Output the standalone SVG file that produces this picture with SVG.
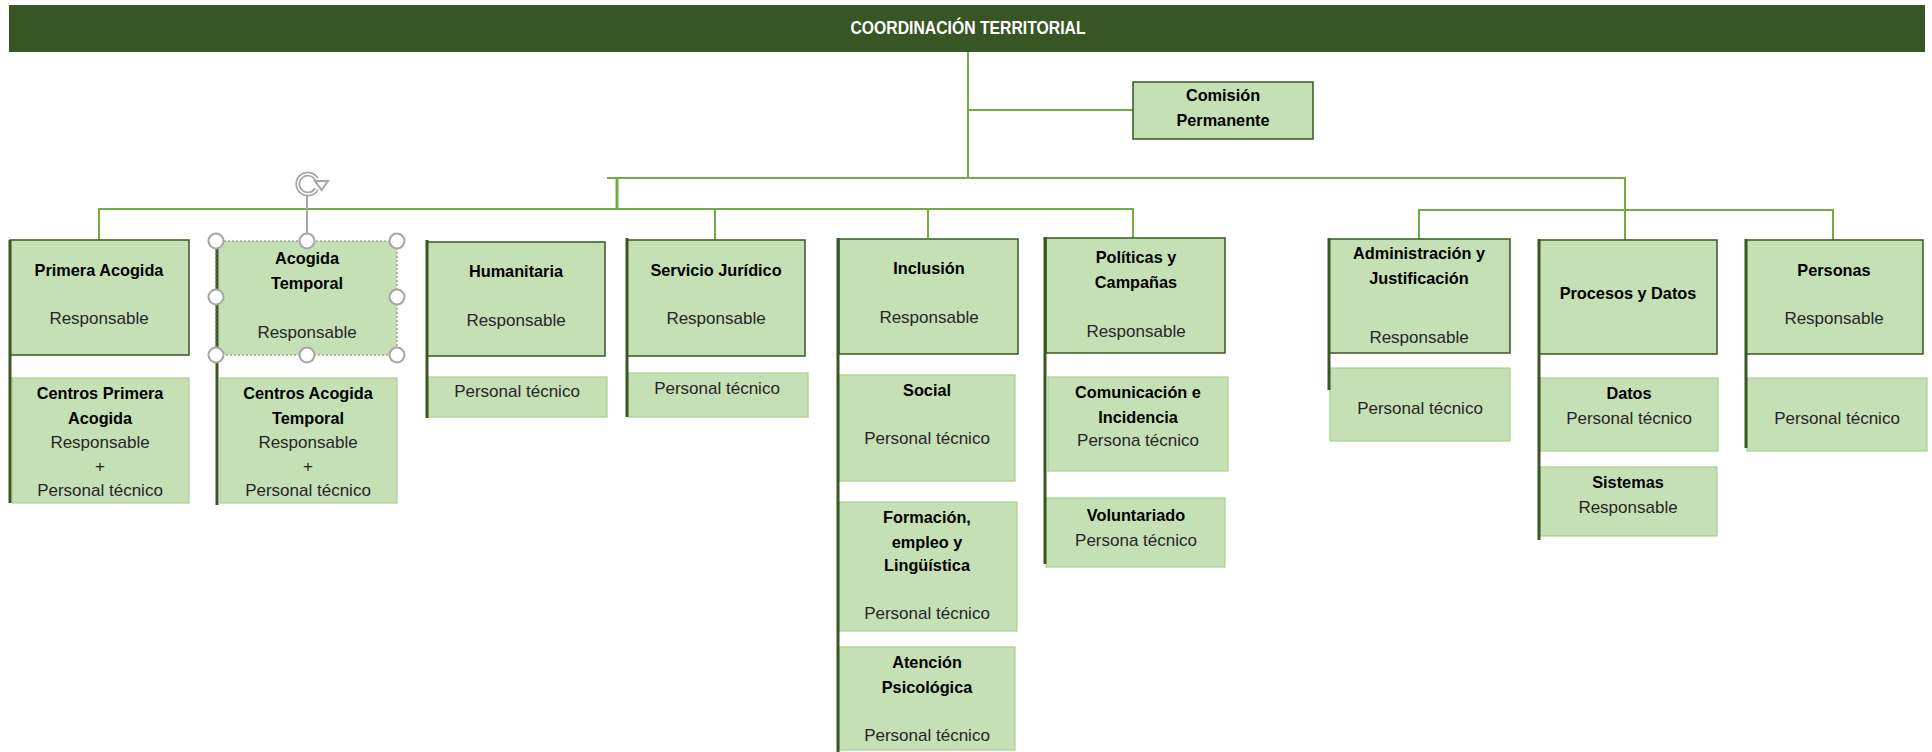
<svg xmlns="http://www.w3.org/2000/svg" width="1932" height="752" viewBox="0 0 1932 752">
<style>
.hdr{fill:#375623}
.box{fill:#c5e0b4;stroke:#385723;stroke-width:1.5}
.sub{fill:#c5e0b4;stroke:#a9d18e;stroke-width:1.2}
.spine{stroke:#385723;stroke-width:3;fill:none}
.conn{stroke:#70ad47;stroke-width:2;fill:none}
.t{font-family:"Liberation Sans",Arial,sans-serif;font-size:17px;fill:#262626;text-anchor:middle}
.b{font-weight:bold;font-size:16.3px;fill:#000}
.ht{font-family:"Liberation Sans",Arial,sans-serif;font-size:17.5px;font-weight:bold;fill:#fff;text-anchor:middle}
.hnd{fill:#fff;stroke:#a6a6a6;stroke-width:2}
</style>
<rect width="1932" height="752" fill="#fff"/>
<g id="connectors">
<path class="conn" d="M968,52 V178"/>
<path class="conn" d="M968,110 H1133"/>
<path class="conn" d="M607,178 H1625 V210"/>
<path class="conn" d="M1419,239 V210 H1833 V240"/>
<path class="conn" d="M1625,210 V240"/>
<path class="conn" d="M617,178 V209" style="stroke-width:3"/>
<path class="conn" d="M99,240 V209 H1133 V239"/>
<path class="conn" d="M715,209 V240"/>
<path class="conn" d="M928,209 V238"/>
</g>
<g id="header">
<rect class="hdr" x="9" y="5" width="1916" height="47"/>
<text class="ht" x="968" y="34" textLength="235" lengthAdjust="spacingAndGlyphs">COORDINACIÓN TERRITORIAL</text>
</g>
<g id="comision">
<rect class="box" x="1133" y="82" width="180" height="57"/>
<text class="t b" x="1223" y="101">Comisión</text>
<text class="t b" x="1223" y="126">Permanente</text>
</g>
<g id="primera-acogida">
<rect class="box" x="10" y="240" width="179" height="115"/>
<text class="t b" x="99" y="276">Primera Acogida</text>
<text class="t" x="99" y="324">Responsable</text>
</g>
<g id="centros-primera-acogida">
<rect class="sub" x="12" y="378" width="177" height="125"/>
<text class="t b" x="100" y="399">Centros Primera</text>
<text class="t b" x="100" y="424">Acogida</text>
<text class="t" x="100" y="448">Responsable</text>
<text class="t" x="100" y="472">+</text>
<text class="t" x="100" y="496">Personal técnico</text>
<line class="spine" x1="10" y1="240" x2="10" y2="503"/>
</g>
<g id="acogida-temporal">
<rect class="box" x="217" y="241" width="180" height="114" style="stroke:none"/>
<text class="t b" x="307" y="264">Acogida</text>
<text class="t b" x="307" y="289">Temporal</text>
<text class="t" x="307" y="338">Responsable</text>
</g>
<g id="centros-acogida-temporal">
<rect class="sub" x="220" y="378" width="177" height="125"/>
<text class="t b" x="308" y="399">Centros Acogida</text>
<text class="t b" x="308" y="424">Temporal</text>
<text class="t" x="308" y="448">Responsable</text>
<text class="t" x="308" y="472">+</text>
<text class="t" x="308" y="496">Personal técnico</text>
<line class="spine" x1="217" y1="241" x2="217" y2="505"/>
</g>
<g id="selection">
<rect x="216" y="241" width="181" height="114" fill="none" stroke="#7f7f7f" stroke-width="1" stroke-dasharray="2,2"/>
<line x1="307" y1="241" x2="307" y2="196" stroke="#a6a6a6" stroke-width="2"/>
<path d="M316.5,179 A10,10 0 1 0 316.5,189" fill="none" stroke="#a6a6a6" stroke-width="5"/>
<path d="M316.5,179 A10,10 0 1 0 316.5,189" fill="none" stroke="#fff" stroke-width="1.5"/>
<polygon points="315,181 328,181 321.5,190" fill="#fff" stroke="#a6a6a6" stroke-width="2"/>
<circle class="hnd" cx="216" cy="241" r="7.5"/>
<circle class="hnd" cx="307" cy="241" r="7.5"/>
<circle class="hnd" cx="397" cy="241" r="7.5"/>
<circle class="hnd" cx="216" cy="297" r="7.5"/>
<circle class="hnd" cx="397" cy="297" r="7.5"/>
<circle class="hnd" cx="216" cy="355" r="7.5"/>
<circle class="hnd" cx="307" cy="355" r="7.5"/>
<circle class="hnd" cx="397" cy="355" r="7.5"/>
</g>
<g id="humanitaria">
<rect class="box" x="427" y="242" width="178" height="114"/>
<text class="t b" x="516" y="277">Humanitaria</text>
<text class="t" x="516" y="326">Responsable</text>
</g>
<g id="humanitaria-tecnico">
<rect class="sub" x="428" y="377" width="179" height="40"/>
<text class="t" x="517" y="397">Personal técnico</text>
<line class="spine" x1="427" y1="240" x2="427" y2="418"/>
</g>
<g id="servicio-juridico">
<rect class="box" x="627" y="240" width="178" height="116"/>
<text class="t b" x="716" y="276">Servicio Jurídico</text>
<text class="t" x="716" y="324">Responsable</text>
</g>
<g id="servicio-juridico-tecnico">
<rect class="sub" x="628" y="373" width="180" height="44"/>
<text class="t" x="717" y="394">Personal técnico</text>
<line class="spine" x1="627" y1="238" x2="627" y2="417"/>
</g>
<g id="inclusion">
<rect class="box" x="839" y="239" width="179" height="115"/>
<text class="t b" x="929" y="274">Inclusión</text>
<text class="t" x="929" y="323">Responsable</text>
</g>
<g id="social">
<rect class="sub" x="839" y="375" width="176" height="106"/>
<text class="t b" x="927" y="396">Social</text>
<text class="t" x="927" y="444">Personal técnico</text>
</g>
<g id="formacion">
<rect class="sub" x="839" y="502" width="178" height="129"/>
<text class="t b" x="927" y="523">Formación,</text>
<text class="t b" x="927" y="548">empleo y</text>
<text class="t b" x="927" y="571">Lingüística</text>
<text class="t" x="927" y="619">Personal técnico</text>
</g>
<g id="atencion">
<rect class="sub" x="839" y="647" width="176" height="103"/>
<text class="t b" x="927" y="668">Atención</text>
<text class="t b" x="927" y="693">Psicológica</text>
<text class="t" x="927" y="741">Personal técnico</text>
<line class="spine" x1="838" y1="238" x2="838" y2="752"/>
</g>
<g id="politicas">
<rect class="box" x="1046" y="238" width="179" height="115"/>
<text class="t b" x="1136" y="263">Políticas y</text>
<text class="t b" x="1136" y="288">Campañas</text>
<text class="t" x="1136" y="337">Responsable</text>
</g>
<g id="comunicacion">
<rect class="sub" x="1048" y="377" width="180" height="94"/>
<text class="t b" x="1138" y="398">Comunicación e</text>
<text class="t b" x="1138" y="423">Incidencia</text>
<text class="t" x="1138" y="446">Persona técnico</text>
</g>
<g id="voluntariado">
<rect class="sub" x="1046" y="498" width="179" height="69"/>
<text class="t b" x="1136" y="521">Voluntariado</text>
<text class="t" x="1136" y="546">Persona técnico</text>
<line class="spine" x1="1045" y1="237" x2="1045" y2="564"/>
</g>
<g id="administracion">
<rect class="box" x="1329" y="239" width="181" height="114"/>
<text class="t b" x="1419" y="259">Administración y</text>
<text class="t b" x="1419" y="284">Justificación</text>
<text class="t" x="1419" y="343">Responsable</text>
</g>
<g id="administracion-tecnico">
<rect class="sub" x="1330" y="368" width="180" height="73"/>
<text class="t" x="1420" y="414">Personal técnico</text>
<line class="spine" x1="1329" y1="238" x2="1329" y2="390"/>
</g>
<g id="procesos">
<rect class="box" x="1539" y="240" width="178" height="114"/>
<text class="t b" x="1628" y="299">Procesos y Datos</text>
</g>
<g id="datos">
<rect class="sub" x="1540" y="378" width="178" height="73"/>
<text class="t b" x="1629" y="399">Datos</text>
<text class="t" x="1629" y="424">Personal técnico</text>
</g>
<g id="sistemas">
<rect class="sub" x="1540" y="467" width="177" height="69"/>
<text class="t b" x="1628" y="488">Sistemas</text>
<text class="t" x="1628" y="513">Responsable</text>
<line class="spine" x1="1539" y1="239" x2="1539" y2="540"/>
</g>
<g id="personas">
<rect class="box" x="1746" y="240" width="177" height="114"/>
<text class="t b" x="1834" y="276">Personas</text>
<text class="t" x="1834" y="324">Responsable</text>
</g>
<g id="personas-tecnico">
<rect class="sub" x="1747" y="378" width="180" height="73"/>
<text class="t" x="1837" y="424">Personal técnico</text>
<line class="spine" x1="1746" y1="239" x2="1746" y2="448"/>
</g>
</svg>
